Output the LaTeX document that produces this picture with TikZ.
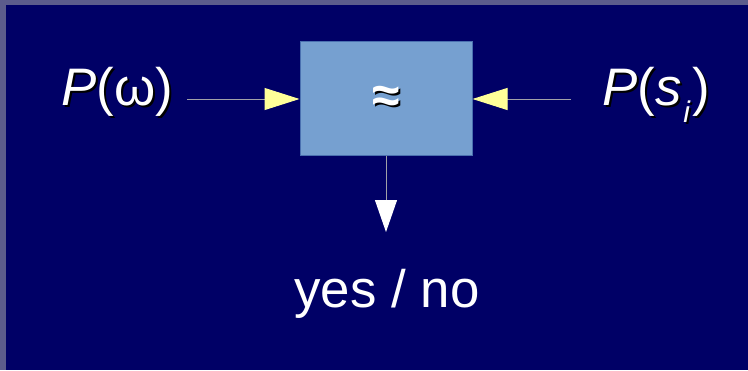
\documentclass[tikz,border=0pt]{standalone}
\usepackage{fontspec}
\setmainfont{Liberation Sans}
\usetikzlibrary{arrows.meta}
\definecolor{frame}{HTML}{5C5C8C}
\definecolor{navy}{HTML}{000066}
\definecolor{boxfill}{HTML}{76A0D0}
\definecolor{boxline}{HTML}{4A70B0}
\definecolor{tipyellow}{HTML}{FFFF99}
\definecolor{linegray}{HTML}{A0A0A8}
\newcommand{\shadowtext}[1]{\makebox[0pt][l]{\kern2bp\raisebox{-2bp}{\color{black}#1}}#1}
\tikzset{
  lbl/.style={inner sep=0pt, text=white, font=\fontsize{53}{60}\selectfont},
  proc/.style={draw=boxline, line width=1bp, fill=boxfill, minimum width=172bp, minimum height=114bp, inner sep=0pt},
  inarrow/.style={draw=linegray, line width=1bp, -{Triangle[length=35bp,width=22bp,fill=tipyellow,color=tipyellow]}},
  outarrow/.style={draw=linegray, line width=1bp, -{Triangle[length=32bp,width=22bp,fill=white,color=white]}}
}
\begin{document}
\begin{tikzpicture}[x=1bp,y=-1bp]
\fill[frame] (0,0) rectangle (748,370);
\fill[navy] (6,5) rectangle (748,370);
\useasboundingbox (0,0) rectangle (748,370);
\node[proc] (box) at (386,98) {};
\node[lbl, font=\fontsize{50}{56}\selectfont\bfseries] (approx) at (386,100) {\shadowtext{≈}};
\node[lbl, anchor=base west] (pw) at (61,105) {\shadowtext{\textit{P}(ω)}};
\node[lbl, anchor=base west] (ps) at (602,105) {\shadowtext{\textit{P}(\textit{s}\kern2bp\raisebox{-0.33em}{\fontsize{30}{34}\selectfont\textit{i}}\kern2bp)}};
\node[lbl, anchor=base] (yn) at (387,307) {yes / no};
\coordinate (lstart) at (187,99);
\coordinate (rstart) at (571,99);
\coordinate (dend) at (386,232);
\draw[inarrow] (lstart) -- (lstart -| box.west);
\draw[inarrow] (rstart) -- (rstart -| box.east);
\draw[outarrow] (box.south) -- (dend);
\end{tikzpicture}
\end{document}
